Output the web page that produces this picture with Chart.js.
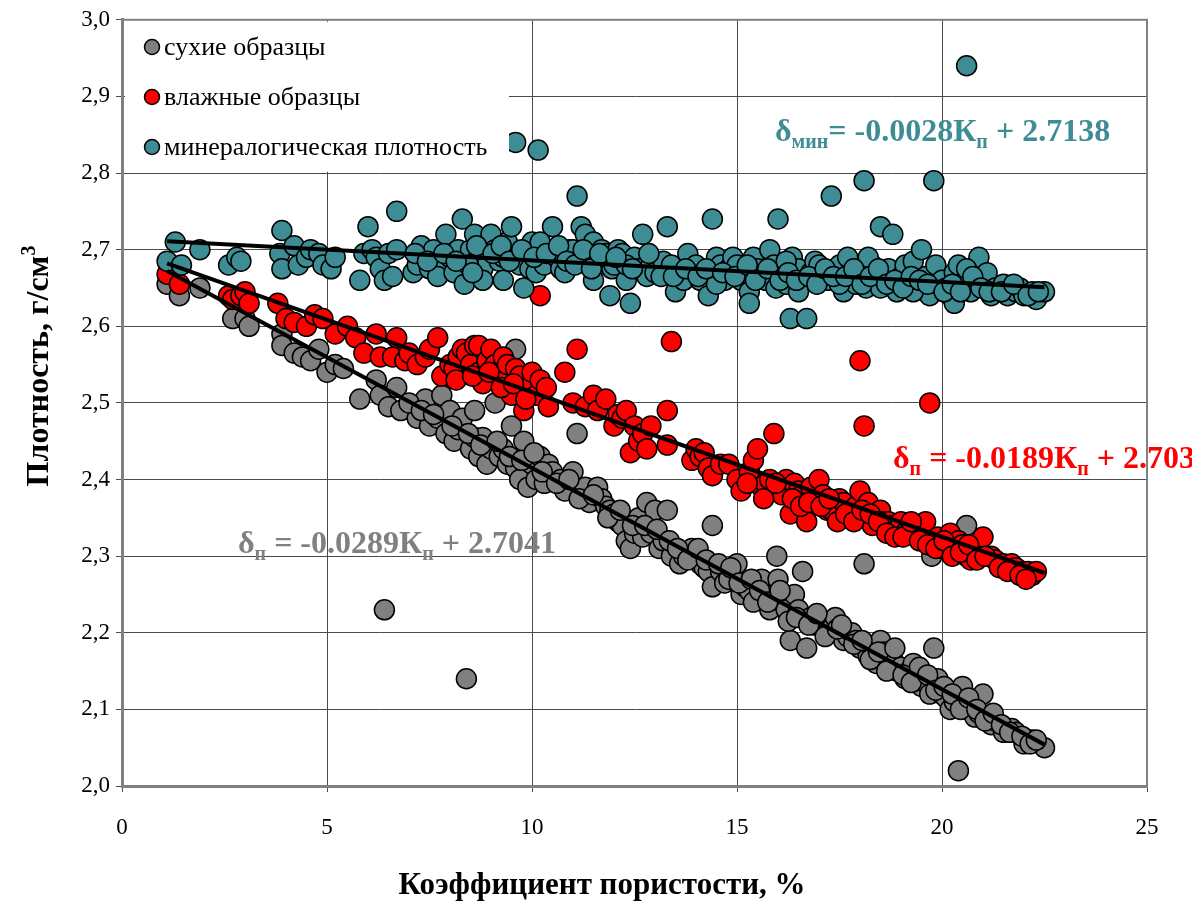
<!DOCTYPE html>
<html>
<head>
<meta charset="utf-8">
<script src="https://cdn.jsdelivr.net/npm/chart.js@4.4.1/dist/chart.umd.min.js"></script>
<style>
html, body { margin: 0; padding: 0; background: #fff; }
#wrap { width: 1192px; height: 908px; }
</style>
</head>
<body>
<div id="wrap"><canvas id="plot" width="1192" height="908"></canvas></div>
<script>
// сухие образцы [Кп, плотность]
var dryPoints = [
  [1.1,2.655],[1.4,2.64],[1.9,2.65],[2.7,2.61],[3.0,2.61],[3.1,2.60],[3.9,2.59],[3.9,2.575],[4.2,2.565],[4.4,2.56],
  [4.6,2.555],[4.8,2.57],[5.0,2.54],[5.2,2.55],[5.4,2.545],[5.8,2.505],[6.2,2.53],[6.3,2.51],[6.4,2.23],[6.5,2.495],
  [6.7,2.52],[6.8,2.49],[7.2,2.48],[7.4,2.505],[7.5,2.47],[7.7,2.48],[7.8,2.51],[7.9,2.46],[8.0,2.49],[8.1,2.45],
  [8.2,2.465],[8.3,2.48],[8.4,2.14],[8.5,2.44],[8.6,2.49],[8.6,2.455],[8.7,2.43],[8.8,2.455],[8.9,2.42],[9.0,2.44],
  [9.1,2.50],[9.2,2.43],[9.3,2.44],[9.4,2.42],[9.5,2.47],[9.6,2.57],[9.6,2.415],[9.7,2.40],[9.8,2.45],[9.9,2.39],
  [10.0,2.42],[10.1,2.40],[10.2,2.43],[10.3,2.395],[10.4,2.42],[10.5,2.41],[10.7,2.40],[10.8,2.385],[11.0,2.41],[11.1,2.46],
  [11.2,2.38],[11.3,2.39],[11.4,2.37],[11.6,2.39],[11.7,2.375],[11.8,2.365],[11.9,2.36],[12.0,2.355],[12.1,2.345],[12.2,2.34],
  [12.3,2.32],[12.4,2.31],[12.5,2.33],[12.6,2.35],[12.7,2.325],[12.8,2.37],[12.9,2.33],[13.0,2.36],[13.1,2.31],[13.2,2.32],
  [13.3,2.36],[13.4,2.30],[13.6,2.29],[13.7,2.30],[13.9,2.31],[14.0,2.30],[14.1,2.29],[14.2,2.285],[14.3,2.28],[14.4,2.26],
  [14.4,2.34],[14.6,2.28],[14.7,2.265],[14.8,2.27],[15.0,2.29],[15.1,2.25],[15.2,2.26],[15.3,2.255],[15.4,2.24],[15.6,2.27],
  [15.7,2.25],[15.8,2.23],[15.9,2.25],[15.97,2.30],[16.0,2.27],[16.1,2.24],[16.2,2.23],[16.3,2.19],[16.4,2.25],[16.5,2.23],
  [16.6,2.28],[16.7,2.18],[16.8,2.22],[16.9,2.21],[17.0,2.21],[17.1,2.215],[17.2,2.20],[17.3,2.205],[17.4,2.22],[17.6,2.19],
  [17.7,2.195],[17.8,2.20],[17.9,2.19],[18.0,2.18],[18.1,2.29],[18.2,2.17],[18.3,2.18],[18.4,2.16],[18.5,2.19],[18.6,2.175],
  [18.7,2.16],[18.8,2.165],[18.9,2.15],[19.0,2.155],[19.1,2.14],[19.2,2.15],[19.3,2.16],[19.4,2.14],[19.5,2.13],[19.6,2.135],
  [19.7,2.12],[19.75,2.30],[19.8,2.18],[19.9,2.14],[20.0,2.12],[20.1,2.115],[20.2,2.10],[20.3,2.11],[20.4,2.02],[20.5,2.13],
  [20.6,2.10],[20.6,2.34],[20.7,2.105],[20.8,2.09],[20.9,2.095],[21.0,2.12],[21.1,2.09],[21.2,2.08],[21.3,2.085],[21.5,2.07],
  [21.7,2.075],[21.8,2.07],[22.0,2.055],[22.1,2.06],[22.2,2.06],[22.5,2.05],
  [7.0,2.50],[7.3,2.49],[7.6,2.485],[8.05,2.47],[8.45,2.46],[8.75,2.445],[9.15,2.45],[9.45,2.43],[9.75,2.425],[10.05,2.435],
  [10.25,2.41],[10.6,2.395],[10.9,2.40],[11.15,2.375],[11.5,2.38],[11.85,2.35],[12.15,2.36],[12.45,2.34],[12.75,2.34],[13.05,2.335],
  [13.35,2.32],[13.55,2.31],[13.8,2.295],[14.05,2.31],[14.25,2.295],[14.55,2.29],[14.85,2.285],[15.05,2.265],[15.35,2.27],[15.55,2.255],
  [15.75,2.24],[16.05,2.255],[16.25,2.215],[16.45,2.22],[16.75,2.21],[16.95,2.225],[17.15,2.195],[17.45,2.205],[17.55,2.21],[17.85,2.185],
  [18.05,2.19],[18.25,2.165],[18.45,2.175],[18.65,2.15],[18.85,2.18],[19.05,2.145],[19.25,2.135],[19.45,2.155],[19.65,2.145],[19.85,2.125],
  [20.05,2.13],[20.25,2.12],[20.45,2.10],[20.65,2.115],[20.85,2.10],[21.05,2.085],[21.25,2.095],[21.45,2.08],[21.65,2.07],[21.95,2.065],
  [22.15,2.055],[22.3,2.06]
];

// влажные образцы
var wetPoints = [
  [1.1,2.668],[1.4,2.655],[2.6,2.64],[2.7,2.635],[2.9,2.64],[3.0,2.645],[3.1,2.63],[3.8,2.63],[4.0,2.61],[4.2,2.605],
  [4.5,2.60],[4.7,2.615],[4.9,2.61],[5.2,2.59],[5.5,2.60],[5.7,2.585],[5.9,2.565],[6.2,2.59],[6.3,2.56],[6.6,2.56],
  [6.7,2.585],[6.9,2.555],[7.0,2.565],[7.2,2.55],[7.4,2.56],[7.5,2.57],[7.7,2.585],[7.8,2.535],[8.0,2.55],[8.1,2.545],
  [8.2,2.56],[8.3,2.57],[8.4,2.565],[8.5,2.55],[8.6,2.575],[8.7,2.54],[8.7,2.575],[8.8,2.525],[8.9,2.555],[9.0,2.57],
  [9.1,2.55],[9.2,2.54],[9.3,2.53],[9.3,2.56],[9.4,2.55],[9.5,2.51],[9.6,2.545],[9.7,2.535],[9.8,2.49],[9.9,2.52],
  [10.0,2.54],[10.1,2.51],[10.2,2.53],[10.2,2.64],[10.4,2.495],[10.8,2.54],[11.0,2.50],[11.1,2.57],[11.3,2.495],[11.5,2.51],
  [11.6,2.49],[11.8,2.505],[12.0,2.47],[12.1,2.485],[12.2,2.48],[12.3,2.49],[12.4,2.435],[12.5,2.47],[12.6,2.45],[12.7,2.46],
  [12.8,2.44],[12.9,2.47],[13.3,2.445],[13.3,2.49],[13.4,2.58],[13.9,2.425],[14.0,2.44],[14.1,2.43],[14.2,2.435],[14.3,2.415],
  [14.4,2.405],[14.6,2.42],[14.8,2.42],[15.0,2.40],[15.1,2.385],[15.3,2.41],[15.4,2.425],[15.5,2.44],[15.6,2.39],[15.7,2.395],
  [15.8,2.40],[15.9,2.46],[16.0,2.385],[16.1,2.38],[16.2,2.40],[16.3,2.355],[16.4,2.395],[16.5,2.385],[16.6,2.38],[16.7,2.345],
  [16.8,2.39],[16.9,2.37],[17.0,2.40],[17.1,2.38],[17.2,2.36],[17.3,2.36],[17.4,2.355],[17.5,2.375],[17.6,2.37],[17.8,2.36],
  [17.9,2.365],[18.0,2.385],[18.0,2.555],[18.1,2.47],[18.2,2.37],[18.3,2.34],[18.4,2.35],[18.5,2.36],[18.6,2.345],[18.7,2.345],
  [18.8,2.34],[18.9,2.335],[19.0,2.345],[19.1,2.33],[19.2,2.33],[19.3,2.34],[19.4,2.335],[19.5,2.325],[19.6,2.345],[19.7,2.50],
  [19.8,2.32],[19.9,2.325],[20.0,2.31],[20.1,2.32],[20.2,2.33],[20.3,2.31],[20.4,2.32],[20.5,2.315],[20.6,2.30],[20.7,2.295],
  [20.8,2.305],[20.9,2.31],[21.0,2.325],[21.2,2.30],[21.3,2.295],[21.5,2.29],[21.7,2.29],[21.8,2.285],[22.0,2.28],[22.1,2.28],
  [22.2,2.275],[22.3,2.28],
  [8.15,2.53],[8.55,2.535],[8.95,2.54],[9.25,2.52],[9.55,2.525],[9.85,2.505],[10.35,2.52],[15.25,2.395],[15.65,2.375],[15.95,2.395],
  [16.35,2.375],[16.55,2.365],[16.75,2.37],[17.05,2.365],[17.25,2.375],[17.45,2.345],[17.65,2.355],[17.85,2.345],[18.05,2.36],[18.25,2.355],
  [18.45,2.345],[18.65,2.33],[18.85,2.325],[19.05,2.325],[19.25,2.345],[19.45,2.32],[19.65,2.315],[19.85,2.31],[20.05,2.32],[20.25,2.30],
  [20.45,2.305],[20.65,2.315],[20.85,2.295],[21.05,2.30],[21.4,2.285],[21.6,2.28],[21.9,2.275],[22.05,2.27]
];

// минералогическая плотность
var minPoints = [
  [1.1,2.685],[1.3,2.71],[1.45,2.68],[1.9,2.70],[2.6,2.68],[2.8,2.69],[2.9,2.685],[3.9,2.725],[3.85,2.695],[3.9,2.675],
  [4.2,2.705],[4.3,2.68],[4.5,2.69],[4.6,2.70],[4.8,2.695],[4.9,2.68],[5.1,2.675],[5.2,2.69],[5.8,2.66],[5.9,2.695],
  [6.0,2.73],[6.1,2.70],[6.2,2.69],[6.3,2.675],[6.4,2.66],[6.5,2.695],[6.7,2.75],[6.7,2.70],[6.6,2.665],[7.1,2.67],
  [7.2,2.68],[7.3,2.705],[7.5,2.675],[7.6,2.70],[7.8,2.68],[7.9,2.72],[7.7,2.665],[8.0,2.69],[8.1,2.67],[8.2,2.70],
  [8.3,2.74],[8.35,2.655],[8.5,2.70],[8.6,2.72],[8.7,2.69],[8.8,2.675],[8.9,2.70],[8.8,2.66],[8.45,2.68],[9.0,2.72],
  [9.1,2.70],[9.2,2.685],[9.3,2.66],[9.4,2.71],[9.5,2.73],[9.6,2.84],[9.6,2.69],[9.7,2.68],[9.8,2.65],[9.9,2.70],
  [9.95,2.675],[9.3,2.69],[10.0,2.71],[10.1,2.67],[10.15,2.83],[10.2,2.69],[10.3,2.68],[10.4,2.70],[10.5,2.73],[10.6,2.69],
  [10.7,2.675],[10.8,2.67],[10.9,2.70],[10.2,2.71],[11.0,2.70],[11.1,2.77],[11.2,2.73],[11.3,2.72],[11.4,2.69],[11.5,2.71],
  [11.6,2.68],[11.7,2.70],[11.8,2.695],[11.9,2.64],[11.95,2.675],[11.5,2.66],[12.0,2.68],[12.1,2.70],[12.2,2.695],[12.3,2.66],
  [12.4,2.63],[12.5,2.69],[12.6,2.675],[12.7,2.72],[12.9,2.68],[12.8,2.665],[12.3,2.68],[13.0,2.67],[13.2,2.685],[13.3,2.73],
  [13.4,2.68],[13.5,2.645],[13.6,2.665],[13.7,2.66],[13.9,2.68],[13.8,2.695],[14.0,2.68],[14.1,2.66],[14.3,2.64],[14.4,2.74],
  [14.5,2.69],[14.6,2.68],[14.7,2.66],[14.8,2.675],[14.9,2.69],[14.5,2.655],[15.0,2.68],[15.1,2.66],[15.2,2.67],[15.3,2.645],
  [15.4,2.69],[15.5,2.675],[15.6,2.665],[15.7,2.66],[15.8,2.70],[15.9,2.68],[15.95,2.65],[15.3,2.63],[16.0,2.74],[16.1,2.67],
  [16.2,2.655],[16.3,2.61],[16.35,2.69],[16.5,2.675],[16.6,2.66],[16.7,2.61],[16.8,2.67],[16.9,2.685],[16.5,2.645],[16.2,2.685],
  [17.0,2.68],[17.1,2.665],[17.2,2.66],[17.3,2.77],[17.4,2.675],[17.5,2.68],[17.6,2.645],[17.7,2.69],[17.8,2.66],[17.9,2.655],
  [17.5,2.655],[18.0,2.67],[18.1,2.79],[18.15,2.65],[18.3,2.68],[18.4,2.66],[18.5,2.73],[18.6,2.66],[18.7,2.675],[18.8,2.72],
  [18.9,2.645],[18.5,2.65],[18.2,2.69],[19.0,2.665],[19.1,2.68],[19.2,2.66],[19.3,2.685],[19.4,2.65],[19.5,2.70],[19.6,2.665],
  [19.7,2.64],[19.8,2.79],[19.85,2.68],[19.9,2.655],[19.3,2.645],[20.0,2.66],[20.1,2.65],[20.2,2.64],[20.3,2.67],[20.4,2.68],
  [20.6,2.94],[20.5,2.655],[20.7,2.645],[20.8,2.66],[20.9,2.69],[20.6,2.675],[20.3,2.63],[21.0,2.66],[21.1,2.67],[21.2,2.64],
  [21.3,2.65],[21.5,2.655],[21.6,2.64],[21.8,2.645],[21.9,2.65],[22.0,2.64],[22.2,2.645],[22.3,2.635],[22.5,2.645],
  [7.15,2.695],[7.45,2.685],[7.85,2.695],[8.15,2.685],[8.55,2.67],[8.65,2.705],[9.05,2.695],[9.25,2.705],[9.45,2.685],[9.75,2.70],
  [10.05,2.69],[10.35,2.695],[10.65,2.705],[10.85,2.685],[11.05,2.68],[11.25,2.70],[11.45,2.675],[11.65,2.695],[12.05,2.69],[12.45,2.675],
  [12.85,2.695],[13.15,2.665],[13.45,2.665],[13.75,2.675],[14.05,2.665],[14.25,2.675],[14.65,2.67],[14.95,2.665],[15.25,2.68],[15.45,2.66],
  [15.75,2.675],[16.05,2.66],[16.25,2.67],[16.45,2.66],[16.75,2.665],[16.95,2.655],[17.15,2.675],[17.35,2.665],[17.65,2.665],[17.85,2.675],
  [18.05,2.655],[18.25,2.665],[18.45,2.675],[18.65,2.655],[18.85,2.66],[19.05,2.65],[19.25,2.665],[19.45,2.66],[19.65,2.655],[20.05,2.645],
  [20.25,2.655],[20.45,2.645],[20.75,2.665],[20.95,2.65],[21.15,2.645],[21.45,2.645],[21.75,2.655],[22.1,2.64],[22.35,2.645]
];

// линии тренда (концы)
var trendDry = [[1.1, 2.672], [22.5, 2.054]];
var trendWet = [[1.1, 2.682], [22.5, 2.278]];
var trendMin = [[1.1, 2.711], [22.5, 2.651]];

var seriesNames = ['сухие образцы', 'влажные образцы', 'минералогическая плотность'];
var seriesColors = ['#808080', '#FF0000', '#3F8D94'];
var xTickLabels = ['0', '5', '10', '15', '20', '25'];
var yTickLabels = ['2,0', '2,1', '2,2', '2,3', '2,4', '2,5', '2,6', '2,7', '2,8', '2,9', '3,0'];

function toXY(arr) {
    return arr.map(function (p) { return { x: p[0], y: p[1] }; });
}

var serif = '"Liberation Serif", "Times New Roman", serif';

function drawRuns(c, x, y, parts, size, color) {
    var cx = x;
    c.fillStyle = color;
    c.textBaseline = 'alphabetic';
    c.textAlign = 'left';
    parts.forEach(function (p) {
        var fs = p[1] ? Math.round(size * 0.62) : size;
        c.font = 'bold ' + fs + 'px ' + serif;
        var dy = p[1] ? size * 0.22 : 0;
        if (p[1] === 2) dy = -size * 0.4;
        c.fillText(p[0], cx, y + dy);
        cx += c.measureText(p[0]).width;
    });
    return cx - x;
}

function runsWidth(c, parts, size) {
    var w = 0;
    parts.forEach(function (p) {
        var fs = p[1] ? Math.round(size * 0.62) : size;
        c.font = 'bold ' + fs + 'px ' + serif;
        w += c.measureText(p[0]).width;
    });
    return w;
}

var extras = {
    id: 'extras',
    afterDraw: function (chart) {
        var c = chart.ctx;
        var a = chart.chartArea;
        c.save();

        // рамка
        c.strokeStyle = '#808080';
        c.lineWidth = 2;
        c.strokeRect(a.left, a.top, a.right - a.left, a.bottom - a.top);

        // легенда
        c.fillStyle = '#fff';
        c.fillRect(a.left + 3, a.top + 2, 384, 150);
        var ly = [47, 97, 147];
        for (var i = 0; i < 3; i++) {
            c.beginPath();
            c.arc(152, ly[i], 7.5, 0, Math.PI * 2);
            c.fillStyle = seriesColors[i];
            c.fill();
            c.lineWidth = 1.5;
            c.strokeStyle = '#000';
            c.stroke();
            c.fillStyle = '#000';
            c.font = '26px ' + serif;
            c.textBaseline = 'middle';
            c.textAlign = 'left';
            c.fillText(seriesNames[i], 164, ly[i] + 1);
        }

        // уравнения
        drawRuns(c, 775, 141, [['δ', 0], ['мин', 1], ['= -0.0028К', 0], ['п', 1], [' + 2.7138', 0]], 32, '#3F8D94');
        drawRuns(c, 893, 468, [['δ', 0], ['п', 1], [' = -0.0189К', 0], ['п', 1], [' + 2.703', 0]], 32, '#FF0000');
        drawRuns(c, 238, 553, [['δ', 0], ['п', 1], [' = -0.0289К', 0], ['п', 1], [' + 2.7041', 0]], 32, '#808080');

        // подписи осей
        c.fillStyle = '#000';
        c.font = 'bold 31px ' + serif;
        c.textAlign = 'center';
        c.textBaseline = 'alphabetic';
        c.fillText('Коэффициент пористости, %', 602, 894);

        var yParts = [['Плотность, г/см', 0], ['3', 2]];
        c.translate(48, 366);
        c.rotate(-Math.PI / 2);
        var w = runsWidth(c, yParts, 32);
        drawRuns(c, -w / 2, 0, yParts, 32, '#000');
        c.restore();
    }
};

var ctx = document.getElementById('plot').getContext('2d');
var myChart = new Chart(ctx, {
    type: 'scatter',
    data: {
        datasets: [{
            label: 'trendMin',
            data: toXY(trendMin),
            showLine: true,
            borderColor: '#000',
            borderWidth: 4,
            pointRadius: 0,
            order: 0
        }, {
            label: 'trendWet',
            data: toXY(trendWet),
            showLine: true,
            borderColor: '#000',
            borderWidth: 4,
            pointRadius: 0,
            order: 0
        }, {
            label: 'trendDry',
            data: toXY(trendDry),
            showLine: true,
            borderColor: '#000',
            borderWidth: 4,
            pointRadius: 0,
            order: 0
        }, {
            label: seriesNames[2],
            data: toXY(minPoints),
            backgroundColor: seriesColors[2],
            borderColor: '#000',
            borderWidth: 1.5,
            pointRadius: 10,
            order: 1
        }, {
            label: seriesNames[1],
            data: toXY(wetPoints),
            backgroundColor: seriesColors[1],
            borderColor: '#000',
            borderWidth: 1.5,
            pointRadius: 10,
            order: 2
        }, {
            label: seriesNames[0],
            data: toXY(dryPoints),
            backgroundColor: seriesColors[0],
            borderColor: '#000',
            borderWidth: 1.5,
            pointRadius: 10,
            order: 3
        }]
    },
    options: {
        responsive: false,
        animation: false,
        devicePixelRatio: 1,
        layout: { padding: { top: 17, right: 45, left: 0, bottom: 0 } },
        plugins: {
            legend: { display: false },
            tooltip: { enabled: false }
        },
        scales: {
            x: {
                type: 'linear',
                min: 0,
                max: 25,
                ticks: {
                    stepSize: 5,
                    color: '#000',
                    font: { family: serif, size: 23 },
                    padding: 22,
                    callback: function (v) { return xTickLabels[Math.round(v / 5)]; }
                },
                grid: { color: '#4a4a4a', lineWidth: 1, tickLength: 6 },
                border: { color: '#808080', width: 3 },
                afterFit: function (s) { s.height = 122; }
            },
            y: {
                min: 2,
                max: 3,
                ticks: {
                    stepSize: 0.1,
                    color: '#000',
                    font: { family: serif, size: 23 },
                    padding: 6,
                    callback: function (v) { return yTickLabels[Math.round((v - 2) * 10)]; }
                },
                grid: { color: '#4a4a4a', lineWidth: 1, tickLength: 6 },
                border: { color: '#808080', width: 3 },
                afterFit: function (s) { s.width = 122; }
            }
        }
    },
    plugins: [extras]
});
</script>
</body>
</html>
